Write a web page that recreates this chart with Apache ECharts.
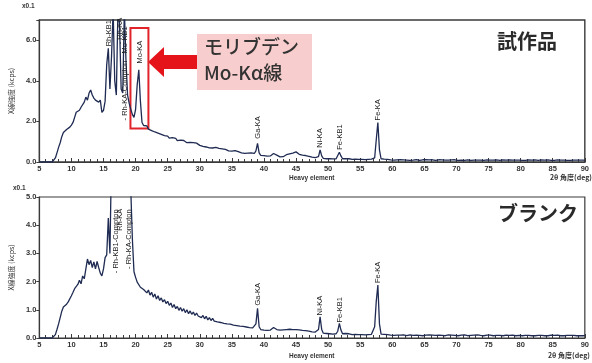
<!DOCTYPE html>
<html>
<head>
<meta charset="utf-8">
<script src="https://cdn.jsdelivr.net/npm/echarts@6/dist/echarts.min.js"></script>
<style>
  html, body { margin: 0; padding: 0; background: #ffffff; }
  #chart { width: 592px; height: 363px; }
</style>
</head>
<body>
<div id="chart"></div>
<script>
// Scan grid: 2θ from 5° to 90° in 0.25° steps (341 readings per spectrum)
const angleStart = 5;
const angleStep = 0.25;

// X-ray intensity (kcps ×0.1), prototype sample; one row = 5°
const countsSample = [
  0,0,0,0,0,0,0,0,0,0.05,0.2,0.45,0.72,0.95,1.25,1.45,1.52,1.6,1.58,1.72,
  1.82,1.95,2.2,2.45,2.38,2.55,2.7,2.62,2.95,3.2,3.05,3.4,3.55,3.3,3.15,3.05,3.1,2.95,3.05,2.45,
  2.55,3.0,4.8,5.6,3.6,5.2,7.5,4.0,3.3,7.5,6.8,3.6,3.4,7.5,5.0,3.3,2.9,2.6,2.35,2.2,
  2.6,3.8,4.55,3.0,1.95,1.8,1.72,1.78,1.62,1.7,1.55,1.6,1.48,1.55,1.42,1.46,1.36,1.4,1.3,1.33,
  1.28,1.18,1.24,1.2,1.12,1.17,1.05,1.13,1.08,1.0,1.06,1.02,0.95,1.01,0.97,0.9,0.96,0.88,0.93,0.86,
  0.82,0.86,0.77,0.8,0.74,0.79,0.7,0.73,0.69,0.66,0.72,0.63,0.67,0.61,0.65,0.58,0.62,0.6,0.55,0.59,
  0.54,0.5,0.56,0.47,0.51,0.49,0.45,0.5,0.43,0.47,0.44,0.4,0.45,0.39,0.42,0.55,0.92,0.45,0.33,0.36,
  0.31,0.35,0.29,0.33,0.3,0.36,0.42,0.45,0.34,0.27,0.25,0.3,0.26,0.32,0.36,0.33,0.4,0.34,0.44,0.48,
  0.5,0.42,0.38,0.4,0.34,0.3,0.32,0.26,0.28,0.22,0.24,0.2,0.22,0.19,0.26,0.6,0.3,0.18,0.2,0.16,
  0.18,0.16,0.17,0.15,0.17,0.16,0.22,0.48,0.3,0.16,0.15,0.17,0.14,0.16,0.15,0.13,0.15,0.14,0.16,0.13,
  0.14,0.13,0.15,0.12,0.14,0.13,0.12,0.14,0.13,0.2,1.1,1.95,0.6,0.16,0.12,0.14,0.11,0.13,0.12,0.1,
  0.11,0.09,0.12,0.1,0.09,0.11,0.08,0.1,0.12,0.09,0.1,0.08,0.11,0.09,0.1,0.12,0.09,0.08,0.1,0.11,
  0.09,0.11,0.08,0.1,0.09,0.11,0.1,0.08,0.09,0.11,0.09,0.1,0.08,0.09,0.11,0.09,0.08,0.1,0.09,0.11,
  0.09,0.08,0.1,0.09,0.11,0.08,0.09,0.1,0.09,0.08,0.1,0.09,0.11,0.09,0.08,0.09,0.1,0.08,0.09,0.1,
  0.08,0.09,0.11,0.09,0.08,0.1,0.09,0.08,0.09,0.1,0.08,0.09,0.09,0.1,0.08,0.09,0.11,0.09,0.08,0.09,
  0.09,0.08,0.1,0.08,0.09,0.1,0.08,0.09,0.08,0.1,0.09,0.08,0.09,0.1,0.08,0.09,0.08,0.1,0.09,0.08,
  0.09,0.08,0.09,0.1,0.08,0.09,0.08,0.09,0.1,0.08,0.09,0.08,0.1,0.09,0.08,0.09,0.08,0.09,0.08,0.09,
  0.08
];

// X-ray intensity (kcps ×0.1), blank; one row = 5°
const countsBlank = [
  0,0,0,0,0,0,0,0,0,0.02,0.12,0.3,0.5,0.72,0.95,1.1,1.15,1.2,1.28,1.35,
  1.5,1.62,1.75,1.68,1.9,2.05,1.92,2.2,2.1,2.45,2.8,2.6,2.75,2.5,2.7,2.45,2.72,2.5,2.3,2.2,
  2.45,2.85,2.95,4.25,3.0,6.5,8.0,7.0,8.5,9.0,8.0,7.5,8.0,9.0,8.5,8.0,7.0,7.0,3.5,2.35,
  2.15,1.98,2.02,1.8,1.86,1.72,1.78,1.6,1.7,1.52,1.62,1.45,1.56,1.38,1.5,1.33,1.42,1.28,1.36,1.22,
  1.3,1.16,1.24,1.08,1.19,1.04,1.12,0.98,1.08,0.95,1.04,0.9,1.0,0.86,0.96,0.84,0.92,0.8,0.88,0.78,
  0.85,0.72,0.8,0.68,0.77,0.64,0.72,0.62,0.7,0.6,0.66,0.57,0.64,0.55,0.62,0.52,0.58,0.5,0.56,0.49,
  0.54,0.46,0.52,0.44,0.5,0.42,0.48,0.41,0.46,0.39,0.44,0.37,0.42,0.36,0.4,0.5,1.05,0.4,0.3,0.34,
  0.28,0.33,0.27,0.31,0.28,0.34,0.37,0.39,0.3,0.26,0.28,0.24,0.29,0.25,0.3,0.27,0.31,0.26,0.3,0.28,
  0.3,0.26,0.29,0.25,0.27,0.23,0.26,0.22,0.24,0.2,0.22,0.19,0.21,0.18,0.3,0.75,0.3,0.17,0.19,0.16,
  0.18,0.15,0.17,0.14,0.16,0.15,0.24,0.52,0.28,0.15,0.14,0.16,0.13,0.15,0.14,0.12,0.14,0.13,0.15,0.12,
  0.13,0.12,0.14,0.11,0.13,0.12,0.11,0.13,0.15,0.4,1.3,1.88,0.5,0.14,0.11,0.13,0.1,0.12,0.11,0.1,
  0.1,0.09,0.11,0.1,0.08,0.1,0.09,0.11,0.1,0.08,0.09,0.11,0.1,0.09,0.08,0.1,0.11,0.09,0.1,0.08,
  0.09,0.1,0.08,0.11,0.09,0.1,0.08,0.09,0.11,0.1,0.08,0.09,0.1,0.08,0.09,0.11,0.09,0.1,0.08,0.09,
  0.1,0.08,0.09,0.1,0.08,0.11,0.09,0.08,0.1,0.09,0.08,0.1,0.09,0.11,0.08,0.09,0.1,0.08,0.09,0.1,
  0.08,0.1,0.09,0.08,0.1,0.09,0.08,0.09,0.1,0.08,0.09,0.1,0.08,0.09,0.08,0.1,0.09,0.08,0.1,0.09,
  0.09,0.08,0.1,0.09,0.08,0.09,0.1,0.08,0.09,0.08,0.1,0.09,0.08,0.09,0.1,0.08,0.09,0.08,0.09,0.1,
  0.08,0.09,0.08,0.1,0.09,0.08,0.09,0.08,0.1,0.09,0.08,0.09,0.08,0.09,0.1,0.08,0.09,0.08,0.09,0.08,
  0.09
];

// Axis ticks
const angleTicks = [5, 90, 5];        // min, max, interval (2θ, deg)
const sampleTicks = [0, 7, 2];        // min, max, interval
const blankTicks = [0, 5, 1];

// Peak identification labels: [name, 2θ, intensity where the label starts]
const peaksSample = [
  ['Rh-KB1', 15.8, 5.7],
  ['- Rh-KA', 17.5, 5.8],
  ['- Rh-KA-Compton', 18.4, 2.05],
  ['Mo-KB1', 18.4, 5.35],
  ['Mo-KA', 20.7, 4.85],
  ['Ga-KA', 39.0, 1.15],
  ['Ni-KA', 48.8, 0.7],
  ['Fe-KB1', 51.8, 0.6],
  ['Fe-KA', 57.8, 2.05]
];
const peaksBlank = [
  ['- Rh-KB1-Compton', 16.9, 2.3],
  ['Rh-KA', 17.6, 3.8],
  ['- Rh-KA-Compton', 18.9, 2.45],
  ['Ga-KA', 39.0, 1.15],
  ['Ni-KA', 48.8, 0.8],
  ['Fe-KB1', 51.8, 0.55],
  ['Fe-KA', 57.8, 1.95]
];

// Highlighted Mo-Kα window (2θ range, intensity range)
const moWindow = [[19.2, 1.65], [22.0, 6.6]];

const toPairs = counts => counts.map((v, i) => [angleStart + i * angleStep, v]);

const INK = '#1f2b52';
const AXIS = '#3a3a3a';
const LATIN = '"Liberation Sans", Arial, sans-serif';
const JP = '"Noto Sans CJK JP", sans-serif';

function peakMarks(peaks) {
  return {
    symbol: 'rect',
    symbolSize: 1,
    itemStyle: { color: 'rgba(0,0,0,0)' },
    silent: true,
    animation: false,
    label: {
      show: true,
      position: 'inside',
      rotate: 90,
      align: 'left',
      verticalAlign: 'middle',
      fontSize: 7.5,
      fontFamily: LATIN,
      color: '#222',
      formatter: p => p.name
    },
    data: peaks.map(p => ({ name: p[0], coord: [p[1], p[2]] }))
  };
}

function xAxisFor(gridIndex) {
  return {
    gridIndex,
    type: 'value',
    min: angleTicks[0], max: angleTicks[1], interval: angleTicks[2],
    axisLine: { lineStyle: { color: AXIS, width: 1.2 } },
    axisTick: { inside: true, length: 4, lineStyle: { color: AXIS } },
    minorTick: { show: true, splitNumber: 5, length: 3, lineStyle: { color: AXIS } },
    splitLine: { show: false },
    axisLabel: { fontSize: 7.5, fontWeight: 'bold', color: '#333', margin: 3, fontFamily: LATIN,
                 showMaxLabel: true }
  };
}

function yAxisFor(gridIndex, ticks, nameGap) {
  return {
    gridIndex,
    type: 'value',
    min: ticks[0], max: ticks[1], interval: ticks[2],
    name: 'X線強度 (kcps)',
    nameLocation: 'middle',
    nameRotate: 90,
    nameGap,
    nameTextStyle: { fontSize: 7, color: '#333', fontFamily: JP },
    axisLine: { lineStyle: { color: AXIS, width: 1.2 } },
    axisTick: { inside: false, length: 3, lineStyle: { color: AXIS } },
    splitLine: { show: false },
    axisLabel: {
      fontSize: 7.5, fontWeight: 'bold', color: '#333', margin: 3, fontFamily: LATIN,
      formatter: v => (v % ticks[2] === 0 ? v.toFixed(1) : '')
    }
  };
}

const chart = echarts.init(document.getElementById('chart'), null, { renderer: 'canvas' });

chart.setOption({
  animation: false,
  backgroundColor: '#ffffff',
  grid: [
    { left: 36, top: 20, width: 553, height: 142, show: true, borderColor: AXIS, borderWidth: 1.4 },
    { left: 36, top: 197, width: 553, height: 141, show: true, borderColor: AXIS, borderWidth: 1.2 }
  ],
  xAxis: [xAxisFor(0), xAxisFor(1)],
  yAxis: [yAxisFor(0, sampleTicks, 24), yAxisFor(1, blankTicks, 24)],
  series: [
    {
      name: '試作品',
      type: 'line',
      xAxisIndex: 0, yAxisIndex: 0,
      data: toPairs(countsSample),
      showSymbol: false,
      clip: true,
      lineStyle: { color: INK, width: 1.3 },
      markPoint: peakMarks(peaksSample),
      markArea: {
        silent: true,
        itemStyle: { color: 'rgba(0,0,0,0)', borderColor: '#e0242a', borderWidth: 2 },
        data: [[{ coord: moWindow[0] }, { coord: moWindow[1] }]]
      }
    },
    {
      name: 'ブランク',
      type: 'line',
      xAxisIndex: 1, yAxisIndex: 1,
      data: toPairs(countsBlank),
      showSymbol: false,
      clip: true,
      lineStyle: { color: INK, width: 1.3 },
      markPoint: peakMarks(peaksBlank)
    }
  ],
  graphic: [
    // axis scale factor and axis captions
    { type: 'text', left: 22, top: 3, style: { text: 'x0.1', fill: '#333', font: 'bold 6.5px ' + LATIN } },
    { type: 'text', left: 13, top: 185, style: { text: 'x0.1', fill: '#333', font: 'bold 6.5px ' + LATIN } },
    { type: 'text', left: 289, top: 175, style: { text: 'Heavy element', fill: '#333', font: 'bold 6.5px ' + LATIN } },
    { type: 'text', left: 289, top: 353, style: { text: 'Heavy element', fill: '#333', font: 'bold 6.5px ' + LATIN } },
    { type: 'text', right: 0, top: 174, style: { text: '2θ 角度(deg)', fill: '#333', font: 'bold 7px ' + JP } },
    { type: 'text', right: 2, top: 352, style: { text: '2θ 角度(deg)', fill: '#333', font: 'bold 7px ' + JP } },
    // callout
    { type: 'rect', shape: { x: 197, y: 34, width: 115, height: 56 }, style: { fill: '#f8cdcd' } },
    { type: 'polygon', shape: { points: [[148, 62], [164, 47], [164, 55], [197, 55], [197, 69], [164, 69], [164, 77]] },
      style: { fill: '#e5141b' } },
    { type: 'text', left: 204, top: 37, style: { text: 'モリブデン', fill: '#333', font: '500 19px ' + JP } },
    { type: 'text', left: 204, top: 63, style: { text: 'Mo-Kα線', fill: '#333', font: '500 19px ' + JP } },
    // panel titles
    { type: 'text', left: 497, top: 31, style: { text: '試作品', fill: '#2a2a2a', font: 'bold 20px ' + JP } },
    { type: 'text', left: 498, top: 203, style: { text: 'ブランク', fill: '#2a2a2a', font: 'bold 20px ' + JP } }
  ]
});
</script>
</body>
</html>
